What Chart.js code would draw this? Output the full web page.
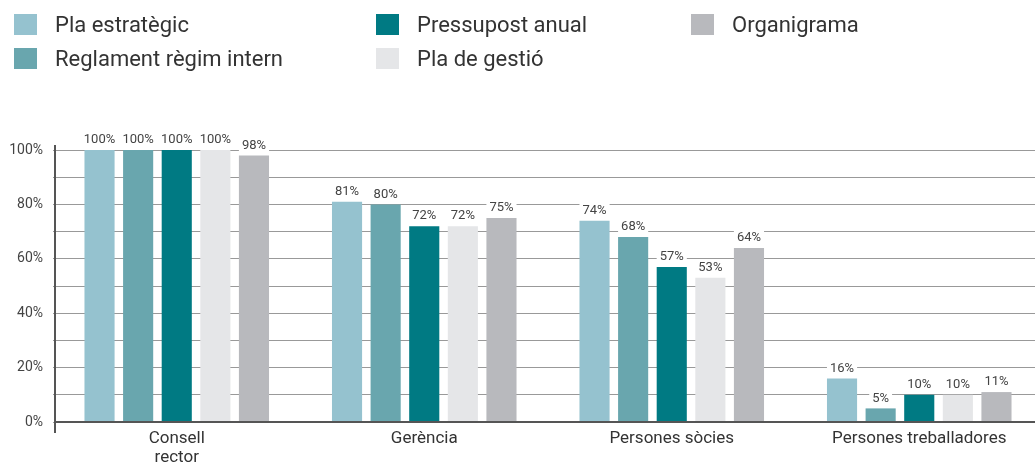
<!DOCTYPE html>
<html>
<head>
<meta charset="utf-8">
<script src="https://cdn.jsdelivr.net/npm/chart.js@4/dist/chart.umd.min.js"></script>
<style>
  html, body { margin: 0; padding: 0; background: #fff; }
  #wrap { position: relative; width: 1035px; height: 464px; overflow: hidden; }
  #legend { position: absolute; left: 0; top: 0; width: 1035px; height: 80px; font-family: Roboto, "Noto Sans", sans-serif; font-size: 22px; color: #333; }
  .item { position: absolute; display: flex; align-items: center; height: 22px; }
  .box { width: 23px; height: 21px; margin-right: 18px; }
</style>
</head>
<body>
<div id="wrap">
  <canvas id="chart" width="1043" height="464"></canvas>
  <div id="legend"></div>
</div>
<script>
const categories = [['Consell', 'rector'], 'Gerència', 'Persones sòcies', 'Persones treballadores'];
const seriesNames = ['Pla estratègic', 'Reglament règim intern', 'Pressupost anual', 'Pla de gestió', 'Organigrama'];
const seriesColors = ['#95c2cf', '#69a6ae', '#007a83', '#e5e6e8', '#b8b9bd'];

const plaEstrategic = [100, 81, 74, 16];
const reglament = [100, 80, 68, 5];
const pressupost = [100, 72, 57, 10];
const plaGestio = [100, 72, 53, 10];
const organigrama = [98, 75, 64, 11];

const yTicks = [0, 20, 40, 60, 80, 100];

const seriesValues = [plaEstrategic, reglament, pressupost, plaGestio, organigrama];

// legend laid out in three columns, filled top to bottom
const legendSpots = [
  { left: 14, top: 13 },
  { left: 14, top: 47 },
  { left: 376, top: 13 },
  { left: 376, top: 47 },
  { left: 691, top: 13 }
];
const legendEl = document.getElementById('legend');
seriesNames.forEach((name, i) => {
  const item = document.createElement('div');
  item.className = 'item';
  item.style.left = legendSpots[i].left + 'px';
  item.style.top = legendSpots[i].top + 'px';
  item.innerHTML = '<span class="box" style="background:' + seriesColors[i] + '"></span><span>' + name + '</span>';
  legendEl.appendChild(item);
});

const axisLines = {
  id: 'axisLines',
  afterDatasetsDraw(chart) {
    const { ctx, chartArea } = chart;
    const x = chartArea.left + 2;
    ctx.save();
    ctx.strokeStyle = '#555';
    ctx.lineWidth = 2;
    ctx.beginPath();
    ctx.moveTo(x, chartArea.top - 5);
    ctx.lineTo(x, chartArea.bottom + 11);
    ctx.moveTo(x, chartArea.bottom);
    ctx.lineTo(chartArea.right, chartArea.bottom);
    ctx.stroke();
    ctx.restore();
  }
};

const valueLabels = {
  id: 'valueLabels',
  afterDatasetsDraw(chart) {
    const { ctx } = chart;
    ctx.save();
    ctx.font = '13px Roboto, "Noto Sans", sans-serif';
    ctx.textAlign = 'center';
    ctx.textBaseline = 'middle';
    chart.data.datasets.forEach((ds, di) => {
      chart.getDatasetMeta(di).data.forEach((bar, i) => {
        const text = ds.data[i] + '%';
        const w = ctx.measureText(text).width + 6;
        const y = bar.y - 10;
        ctx.fillStyle = '#fff';
        ctx.fillRect(bar.x - w / 2, y - 7, w, 14);
        ctx.fillStyle = '#444';
        ctx.fillText(text, bar.x, y);
      });
    });
    ctx.restore();
  }
};

new Chart(document.getElementById('chart'), {
  type: 'bar',
  data: {
    labels: categories,
    datasets: seriesNames.map((name, i) => ({
      label: name,
      data: seriesValues[i],
      backgroundColor: seriesColors[i],
      categoryPercentage: 0.78,
      barPercentage: 0.78
    }))
  },
  options: {
    responsive: false,
    animation: false,
    layout: { padding: { top: 150, left: 0, right: 0, bottom: 0 } },
    plugins: {
      legend: { display: false },
      tooltip: { enabled: false }
    },
    scales: {
      x: {
        grid: { display: false },
        border: { display: false },
        ticks: {
          color: '#333',
          padding: 0,
          font: { family: 'Roboto, "Noto Sans", sans-serif', size: 17, lineHeight: 1.08 },
          maxRotation: 0
        },
        afterFit(scale) { scale.height = 42; }
      },
      y: {
        min: 0,
        max: 100,
        border: { display: false },
        grid: { color: '#999', lineWidth: 1, borderDash: [2, 1], drawTicks: false },
        ticks: {
          stepSize: 10,
          padding: 10,
          color: '#444',
          font: { family: 'Roboto, "Noto Sans", sans-serif', size: 14 },
          callback: v => yTicks.includes(v) ? v + '%' : ''
        },
        afterFit(scale) { scale.width = 53; }
      }
    }
  },
  plugins: [axisLines, valueLabels]
});
</script>
</body>
</html>
